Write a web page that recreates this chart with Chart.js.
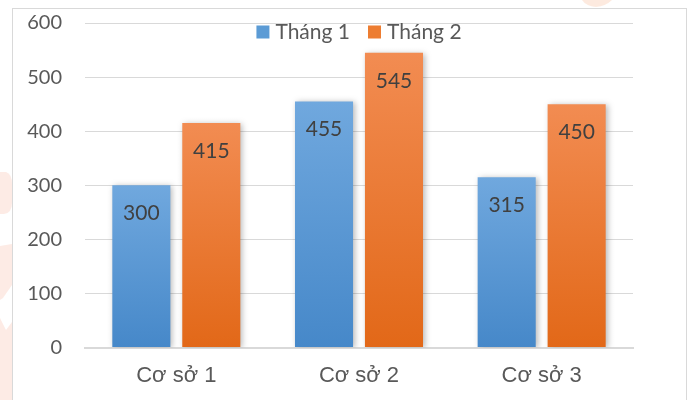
<!DOCTYPE html>
<html>
<head>
<meta charset="utf-8">
<script src="https://cdn.jsdelivr.net/npm/chart.js@4/dist/chart.umd.min.js"></script>
<style>
  html, body { margin: 0; padding: 0; background: #fff; }
  #wrap { width: 688px; height: 400px; position: relative; }
</style>
</head>
<body>
<div id="wrap"><canvas id="c" width="688" height="400"></canvas></div>
<script>
const categories = ['Cơ sở 1', 'Cơ sở 2', 'Cơ sở 3'];
const seriesNames = ['Tháng 1', 'Tháng 2'];
const thang1 = [300, 455, 315];
const thang2 = [415, 545, 450];
const yTicks = [0, 100, 200, 300, 400, 500, 600];

const TEXT = '#595959';
const GRID = '#d9d9d9';
const NUM_FONT = 'Lato, "Open Sans", sans-serif';
const CAT_FONT = '"Liberation Sans", Arial, sans-serif';

const palettes = [
  { top: '#70a8de', bottom: '#4688c9', swatch: '#5b9bd5' },
  { top: '#f28c52', bottom: '#e26818', swatch: '#ed7d31' }
];

// Per-bar vertical gradient, running from the bar's top to the zero line
function barGradient(pal) {
  return (ctx) => {
    const chart = ctx.chart;
    const ys = chart.scales.y;
    if (!ys || ctx.parsed === undefined) return pal.bottom;
    const top = ys.getPixelForValue(ctx.parsed.y);
    const bot = ys.getPixelForValue(0);
    if (!isFinite(top) || !isFinite(bot) || top === bot) return pal.bottom;
    const g = chart.ctx.createLinearGradient(0, top, 0, bot);
    g.addColorStop(0, pal.top);
    g.addColorStop(1, pal.bottom);
    return g;
  };
}

// Faint page ornaments behind the chart frame
function drawOrnaments(c) {
  c.save();
  c.fillStyle = 'rgba(250, 190, 170, 0.3)';
  c.beginPath();
  c.moveTo(0, 172);
  c.lineTo(6, 172);
  c.quadraticCurveTo(12, 174, 12, 184);
  c.lineTo(12, 203);
  c.quadraticCurveTo(12, 213, 4, 214);
  c.lineTo(0, 214);
  c.closePath();
  c.fill();
  c.beginPath();
  c.moveTo(0, 246);
  c.lineTo(12, 244);
  c.lineTo(12, 285);
  c.lineTo(3, 298);
  c.lineTo(0, 300);
  c.closePath();
  c.fill();
  c.beginPath();
  c.moveTo(0, 318);
  c.lineTo(6, 330);
  c.lineTo(12, 322);
  c.lineTo(12, 400);
  c.lineTo(0, 400);
  c.closePath();
  c.fill();
  c.fillStyle = 'rgba(250, 185, 150, 0.3)';
  c.beginPath();
  c.moveTo(582, 0);
  c.lineTo(612, 0);
  c.quadraticCurveTo(606, 6, 596, 7);
  c.quadraticCurveTo(586, 6, 582, 0);
  c.closePath();
  c.fill();
  c.restore();
}

// Frame, soft bar shadows, value labels and the inline legend
const decor = {
  id: 'decor',
  beforeDraw(chart) {
    const c = chart.ctx;
    c.save();
    c.fillStyle = '#fff';
    c.fillRect(0, 0, chart.width, chart.height);
    drawOrnaments(c);
    c.fillStyle = '#fff';
    c.fillRect(13, 9, 673, 400);
    c.strokeStyle = GRID;
    c.lineWidth = 1;
    c.strokeRect(12.5, 8.5, 674, 400);
    c.restore();
  },
  beforeDatasetsDraw(chart) {
    const c = chart.ctx;
    c.save();
    c.shadowColor = 'rgba(0,0,0,0.28)';
    c.shadowBlur = 6;
    c.shadowOffsetX = 2;
    c.shadowOffsetY = 1;
  },
  afterDatasetsDraw(chart) {
    const c = chart.ctx;
    c.restore();
    c.save();
    c.font = '21px ' + NUM_FONT;
    c.fillStyle = '#404040';
    c.textAlign = 'center';
    c.textBaseline = 'middle';
    chart.data.datasets.forEach((ds, i) => {
      const meta = chart.getDatasetMeta(i);
      meta.data.forEach((bar, j) => {
        c.fillText(String(ds.data[j]), bar.x, bar.y + 28);
      });
    });
    c.restore();
  },
  afterDraw(chart) {
    const c = chart.ctx;
    c.save();
    c.font = '21px ' + NUM_FONT;
    c.textBaseline = 'middle';
    const sw = 13, gapSw = 6, gapItem = 18, cy = 32;
    const widths = seriesNames.map(n => c.measureText(n).width);
    let total = 0;
    widths.forEach((w, i) => { total += sw + gapSw + w + (i ? gapItem : 0); });
    const cx = (chart.chartArea.left + chart.chartArea.right) / 2;
    let x = cx - total / 2;
    seriesNames.forEach((n, i) => {
      if (i) x += gapItem;
      c.fillStyle = palettes[i].swatch;
      c.fillRect(x, cy - sw / 2, sw, sw);
      x += sw + gapSw;
      c.fillStyle = TEXT;
      c.fillText(n, x, cy);
      x += widths[i];
    });
    c.restore();
  }
};

new Chart(document.getElementById('c'), {
  type: 'bar',
  data: {
    labels: categories,
    datasets: [
      { label: seriesNames[0], data: thang1, backgroundColor: barGradient(palettes[0]) },
      { label: seriesNames[1], data: thang2, backgroundColor: barGradient(palettes[1]) }
    ]
  },
  options: {
    responsive: false,
    animation: false,
    devicePixelRatio: 1,
    categoryPercentage: 0.766,
    barPercentage: 0.83,
    layout: { padding: { top: 23, right: 55, bottom: 0, left: 0 } },
    plugins: {
      legend: { display: false },
      tooltip: { enabled: false }
    },
    scales: {
      x: {
        grid: { display: false, drawTicks: false },
        border: { display: true, color: GRID, width: 2 },
        ticks: { color: TEXT, font: { family: CAT_FONT, size: 22 }, padding: 15 },
        afterFit(scale) {
          scale.height = 52.5;
          scale.paddingLeft = 0;
          scale.paddingRight = 0;
        }
      },
      y: {
        min: 0,
        max: 600,
        afterBuildTicks(scale) { scale.ticks = yTicks.map(v => ({ value: v })); },
        grid: { color: GRID, lineWidth: 1, drawTicks: false },
        border: { display: false },
        ticks: { color: TEXT, font: { family: NUM_FONT, size: 20 }, padding: 23 },
        afterFit(scale) {
          scale.width = 85;
          scale.paddingTop = 0;
          scale.paddingBottom = 0;
        }
      }
    }
  },
  plugins: [decor]
});
</script>
</body>
</html>
